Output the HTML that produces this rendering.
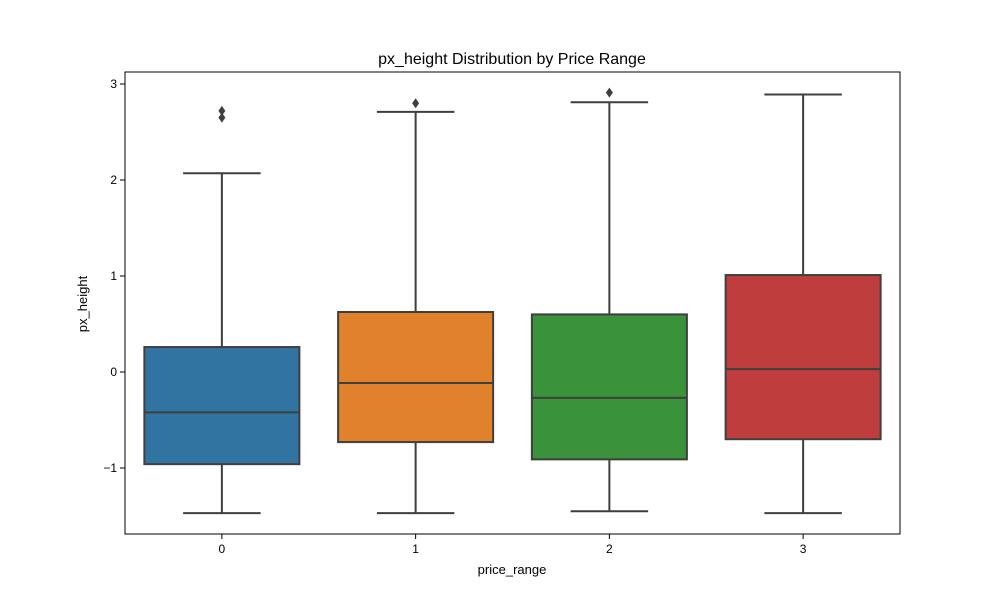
<!DOCTYPE html>
<html><head><meta charset="utf-8"><style>
body{margin:0;background:#fff;}
svg text{font-family:"Liberation Sans",sans-serif;fill:#000;}
</style></head><body>
<svg id="chart" width="1000" height="600" xmlns="http://www.w3.org/2000/svg">
<rect x="0" y="0" width="1000" height="600" fill="#fff"/>
<text x="512" y="64" font-size="16" text-anchor="middle">px_height Distribution by Price Range</text>
<text x="512" y="574" font-size="13" text-anchor="middle">price_range</text>
<text x="0" y="0" font-size="13" text-anchor="middle" transform="translate(87,304) rotate(-90)">px_height</text>
<g id="plot"></g>
</svg>
<script>
const categories = ["0","1","2","3"];
const whiskerLow = [-1.47,-1.47,-1.45,-1.47];
const q1 = [-0.96,-0.73,-0.91,-0.70];
const medians = [-0.42,-0.115,-0.27,0.03];
const q3 = [0.26,0.625,0.60,1.01];
const whiskerHigh = [2.07,2.71,2.81,2.89];
const outliers = [[2.72,2.65],[2.80],[2.91],[]];
const yTicks = [-1,0,1,2,3];
const colors = ["#3274a1","#e1812c","#3a923a","#c03d3e"];

const L=125,R=900,T=72,B=534;
const y = v => 372 - 96*v;
const band = (R-L)/categories.length;
const x = i => L + band*(i+0.5);
const NS="http://www.w3.org/2000/svg";
const g=document.getElementById('plot');
function mk(tag,attrs){const e=document.createElementNS(NS,tag);for(const k in attrs)e.setAttribute(k,attrs[k]);g.appendChild(e);return e;}
const stroke="#3f3f3f";
categories.forEach((c,i)=>{
  const cx=x(i), hw=band*0.4;
  let e=mk('line',{x1:cx,x2:cx,y1:y(q3[i]),y2:y(whiskerHigh[i]),stroke:stroke,'stroke-width':2});
  
  
  e=mk('line',{x1:cx,x2:cx,y1:y(q1[i]),y2:y(whiskerLow[i]),stroke:stroke,'stroke-width':2});
  
  
  e=mk('line',{x1:cx-hw/2,x2:cx+hw/2,y1:y(whiskerHigh[i]),y2:y(whiskerHigh[i]),stroke:stroke,'stroke-width':2});
  
  
  e=mk('line',{x1:cx-hw/2,x2:cx+hw/2,y1:y(whiskerLow[i]),y2:y(whiskerLow[i]),stroke:stroke,'stroke-width':2});
  
  
  e=mk('rect',{x:cx-hw,y:y(q3[i]),width:2*hw,height:y(q1[i])-y(q3[i]),fill:colors[i],stroke:stroke,'stroke-width':2});
  
  
  e=mk('line',{x1:cx-hw,x2:cx+hw,y1:y(medians[i]),y2:y(medians[i]),stroke:stroke,'stroke-width':2});
  
  
  outliers[i].forEach((v,j)=>{
    const py=y(v);
    const o=mk('polygon',{points:`${cx},${py-5} ${cx+3.5},${py} ${cx},${py+5} ${cx-3.5},${py}`,fill:stroke});
    
    
  });
  e=mk('line',{x1:cx,x2:cx,y1:B,y2:B+5,stroke:'#000','stroke-width':1});
  
  
  const t=mk('text',{x:cx,y:B+19,'font-size':12,'text-anchor':'middle'});
  t.textContent=c;
  
  
});
yTicks.forEach(v=>{
  let e=mk('line',{x1:L-5,x2:L,y1:y(v),y2:y(v),stroke:'#000','stroke-width':1});
  
  
  const t=mk('text',{x:L-8,y:y(v)+4,'font-size':12,'text-anchor':'end'});
  t.textContent=v<0?'\u2212'+Math.abs(v):String(v);
  
  
});
const f=mk('rect',{x:L,y:T,width:R-L,height:B-T,fill:'none',stroke:'#000','stroke-width':1});


</script>
</body></html>
